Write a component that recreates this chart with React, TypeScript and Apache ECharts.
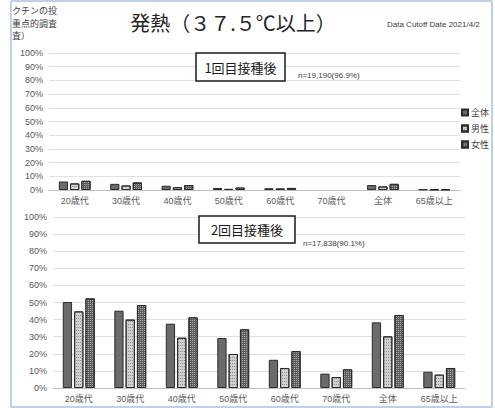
import React, { useEffect, useRef } from "react";
import * as echarts from "echarts";

const categories = ["20歳代", "30歳代", "40歳代", "50歳代", "60歳代", "70歳代", "全体", "65歳以上"];
const seriesNames = ["全体", "男性", "女性"];

// 1回目接種後 (%)
const dose1All = [6.2, 4.5, 3.1, 1.5, 1.3, null, 3.6, 0.4];
const dose1Male = [4.8, 3.3, 2.0, 0.8, 1.1, null, 2.6, 0.4];
const dose1Female = [6.7, 5.5, 3.6, 1.8, 1.5, null, 4.5, 0.4];

// 2回目接種後 (%)
const dose2All = [50.3, 45.2, 37.6, 29.2, 16.5, 8.4, 38.4, 9.5];
const dose2Male = [44.8, 40.0, 29.4, 19.9, 11.7, 6.4, 30.2, 7.8];
const dose2Female = [52.4, 48.5, 41.3, 34.3, 21.6, 10.9, 42.7, 11.7];

const FONT = "'Liberation Sans', Arial, 'Noto Sans CJK JP', sans-serif";
const CJK = "'Noto Sans CJK JP', sans-serif";

const styles = [
  { color: "#6b6b6b", decal: undefined as any },
  {
    color: "#d0d0d0",
    decal: { symbol: "rect", symbolSize: 1, dashArrayX: [1, 1], dashArrayY: [1, 2], color: "#8f8f8f", rotation: 0 },
  },
  {
    color: "#5e5e5e",
    decal: { symbol: "rect", symbolSize: 1, dashArrayX: [1, 1], dashArrayY: [1, 1], color: "#a8a8a8", rotation: 0 },
  },
];

function makeSeries(data: (number | null)[][], xi: number) {
  return data.map((d, i) => ({
    name: seriesNames[i],
    type: "bar",
    xAxisIndex: xi,
    yAxisIndex: xi,
    data: d,
    barWidth: "18%",
    barGap: "22%",
    itemStyle: {
      color: styles[i].color,
      borderColor: "#2b2b2b",
      borderWidth: 1,
      decal: styles[i].decal,
    },
  }));
}

export default function App() {
  const ref = useRef<HTMLDivElement>(null);
  useEffect(() => {
    if (!ref.current) return;
    const chart = echarts.init(ref.current, undefined, { renderer: "svg" });
    const yAxisBase = {
      type: "value",
      min: 0,
      max: 100,
      interval: 10,
      axisLabel: { formatter: (v: number) => v + "%", color: "#595959", fontSize: 9, fontFamily: FONT, margin: 6 },
      splitLine: { lineStyle: { color: "#e0e0e0", width: 1 } },
      axisLine: { show: false },
      axisTick: { show: false },
    };
    const xAxisBase = {
      type: "category",
      data: categories,
      axisLabel: { color: "#595959", fontSize: 9, fontFamily: FONT, margin: 6 },
      axisLine: { lineStyle: { color: "#bfbfbf" } },
      axisTick: { show: false },
    };
    const Z = 100;
    chart.setOption({
      animation: false,
      aria: { enabled: false, decal: { show: true } },
      grid: [
        { left: 49, right: 35, top: 53, height: 137 },
        { left: 53, right: 30, top: 217, height: 171 },
      ],
      xAxis: [
        { ...xAxisBase, gridIndex: 0 },
        { ...xAxisBase, gridIndex: 1 },
      ],
      yAxis: [
        { ...yAxisBase, gridIndex: 0 },
        { ...yAxisBase, gridIndex: 1 },
      ],
      legend: {
        data: seriesNames,
        orient: "vertical",
        left: 456,
        top: 103,
        itemWidth: 6,
        itemHeight: 6,
        itemGap: 7,
        textStyle: { fontSize: 9, color: "#404040", fontFamily: CJK, padding: [0, 0, 0, -2] },
        icon: "rect",
      },
      series: [
        ...makeSeries([dose1All, dose1Male, dose1Female], 0),
        ...makeSeries([dose2All, dose2Male, dose2Female], 1),
      ],
      graphic: [
        { type: "line", z: Z, shape: { x1: 11, y1: 1, x2: 492, y2: 1 }, style: { stroke: "#a9c1e3", lineWidth: 1.5 } },
        { type: "line", z: Z, shape: { x1: 11, y1: 1, x2: 11, y2: 407 }, style: { stroke: "#a9c1e3", lineWidth: 1.5 } },
        { type: "line", z: Z, shape: { x1: 492, y1: 1, x2: 492, y2: 407 }, style: { stroke: "#a9c1e3", lineWidth: 1.5 } },
        { type: "line", z: Z, shape: { x1: 11, y1: 407, x2: 492, y2: 407 }, style: { stroke: "#a9c1e3", lineWidth: 1.5 } },
        { type: "text", z: Z, left: 12, top: 6, style: { text: "クチンの投", fontSize: 9, fill: "#404040", fontFamily: CJK } },
        { type: "text", z: Z, left: 12, top: 19, style: { text: "重点的調査", fontSize: 9, fill: "#404040", fontFamily: CJK } },
        { type: "text", z: Z, left: 12, top: 31, style: { text: "査）", fontSize: 9, fill: "#404040", fontFamily: CJK } },
        {
          type: "text", z: Z, x: 233, y: 22,
          style: { text: "発熱（３７.５℃以上）", fontSize: 20, fill: "#262626", fontFamily: CJK, align: "center", verticalAlign: "middle" },
        },
        {
          type: "text", z: Z, x: 387, y: 24,
          style: { text: "Data Cutoff Date 2021/4/2", fontSize: 8, fill: "#404040", fontFamily: FONT, verticalAlign: "middle" },
        },
        { type: "rect", z: Z, shape: { x: 196, y: 53, width: 89, height: 28 }, style: { fill: "#fff", stroke: "#1a1a1a", lineWidth: 1.5 } },
        {
          type: "text", z: Z + 1, x: 240.5, y: 67,
          style: { text: "1回目接種後", fontSize: 13, fill: "#1a1a1a", fontFamily: CJK, align: "center", verticalAlign: "middle" },
        },
        { type: "text", z: Z, x: 298, y: 75, style: { text: "n=19,190(96.9%)", fontSize: 8, fill: "#404040", fontFamily: FONT, verticalAlign: "middle" } },
        { type: "rect", z: Z, shape: { x: 199, y: 216, width: 96, height: 27 }, style: { fill: "#fff", stroke: "#1a1a1a", lineWidth: 1.5 } },
        {
          type: "text", z: Z + 1, x: 247, y: 229.5,
          style: { text: "2回目接種後", fontSize: 13, fill: "#1a1a1a", fontFamily: CJK, align: "center", verticalAlign: "middle" },
        },
        { type: "text", z: Z, x: 303, y: 243, style: { text: "n=17,838(90.1%)", fontSize: 8, fill: "#404040", fontFamily: FONT, verticalAlign: "middle" } },
      ],
    });
    return () => chart.dispose();
  }, []);
  return <div ref={ref} style={{ width: 495, height: 408, position: "fixed", left: 0, top: 0, background: "#fff" }} />;
}
